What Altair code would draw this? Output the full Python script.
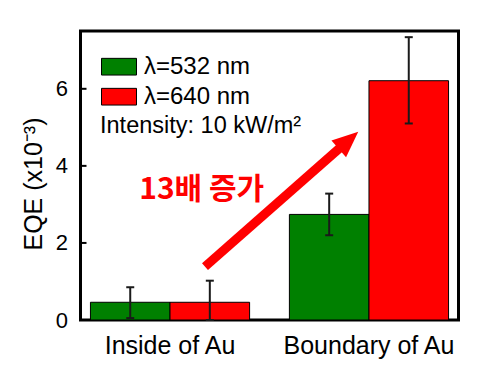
import altair as alt
import pandas as pd

# ---- data ----
locations = ["Inside of Au", "Boundary of Au"]
wavelengths = ["λ=532 nm", "λ=640 nm"]
colors = ["#008000", "#ff0000"]
eqe_532 = [0.46, 2.74]
eqe_640 = [0.46, 6.21]
lo_532 = [0.05, 2.20]
hi_532 = [0.85, 3.28]
lo_640 = [0.00, 5.10]
hi_640 = [1.02, 7.34]
y_ticks = [0, 2, 4, 6]
y_title = "EQE (x10⁻³)"
intensity_text = "Intensity: 10 kW/m²"
arrow_text = "13배 증가"

rows = []
for i, loc in enumerate(locations):
    rows.append({"location": loc, "wavelength": wavelengths[0], "eqe": eqe_532[i], "lo": lo_532[i], "hi": hi_532[i]})
    rows.append({"location": loc, "wavelength": wavelengths[1], "eqe": eqe_640[i], "lo": lo_640[i], "hi": hi_640[i]})
df = pd.DataFrame(rows)

yscale = alt.Scale(domain=[0, 7.5], nice=False, zero=True)

base = alt.Chart(df).encode(
    x=alt.X("location:N", sort=locations,
            scale=alt.Scale(paddingInner=0.2, paddingOuter=0.05),
            axis=alt.Axis(title=None, labelAngle=0, labelFontSize=25, labelPadding=13,
                          ticks=False, tickSize=0, domain=False, labelColor="black")),
    xOffset=alt.XOffset("wavelength:N", sort=wavelengths,
                        scale=alt.Scale(paddingInner=0, paddingOuter=0)),
)

bars = base.mark_bar(stroke="black", strokeWidth=1).encode(
    y=alt.Y("eqe:Q", scale=yscale,
            axis=alt.Axis(values=y_ticks, ticks=False, tickSize=0, domain=False, grid=False,
                          labelFontSize=22, labelPadding=13, labelColor="black",
                          title=y_title, titleFontSize=25, titleFontWeight="normal",
                          titleColor="black", titleAngle=-90, titleX=-39, titleY=152.5,
                          titleAlign="center", titleBaseline="alphabetic")),
    color=alt.Color("wavelength:N",
                    scale=alt.Scale(domain=wavelengths, range=colors),
                    legend=alt.Legend(title=None, orient="none", legendX=20.5, legendY=20.7,
                                      padding=0, rowPadding=0, clipHeight=30,
                                      symbolType="M-1,-0.477H1V0.477H-1Z", symbolSize=1225,
                                      symbolStrokeColor="black", symbolStrokeWidth=1,
                                      symbolOpacity=1, labelOffset=7,
                                      labelFontSize=24, labelColor="black")),
)

err = base.mark_rule(color="#1a1a1a", strokeWidth=2).encode(
    y=alt.Y("lo:Q", scale=yscale), y2="hi:Q"
)

caps = base.transform_fold(["lo", "hi"], as_=["end", "val"]).mark_tick(
    color="#1a1a1a", size=8, thickness=2, orient="horizontal", opacity=1
).encode(y=alt.Y("val:Q", scale=yscale))

tick_df = pd.DataFrame({"t": y_ticks})
inner_ticks = alt.Chart(tick_df).mark_rule(color="black", strokeWidth=2).encode(
    y=alt.Y("t:Q", scale=yscale), x=alt.value(0), x2=alt.value(6)
)

intensity = alt.Chart(pd.DataFrame({"label": [intensity_text]})).mark_text(
    align="left", baseline="alphabetic", fontSize=23.5, color="black"
).encode(text="label:N", x=alt.value(19.5), y=alt.value(102.3))

shaft = alt.Chart(pd.DataFrame({"a": [1]})).mark_rule(
    color="#ff0000", strokeWidth=9, strokeCap="butt"
).encode(x=alt.value(124.5), y=alt.value(235.7), x2=alt.value(261), y2=alt.value(115.5))

head = alt.Chart(pd.DataFrame({"a": [1]})).mark_point(
    shape="M0,-1L-0.85,1L0.85,1Z", size=676, angle=48.6, filled=True,
    color="#ff0000", opacity=1, strokeWidth=0
).encode(x=alt.value(268), y=alt.value(109.3))

korean = alt.Chart(pd.DataFrame({"label": [arrow_text]})).mark_text(
    align="center", baseline="middle", fontSize=30, fontWeight="bold",
    font="Noto Sans CJK KR", color="#ff0000"
).encode(text="label:N", x=alt.value(121.2), y=alt.value(158.5))

chart = alt.layer(bars, err, caps, inner_ticks, intensity, shaft, head, korean).properties(
    width=378, height=289,
    autosize=alt.AutoSizeParams(type="none"),
    padding={"left": 72.5, "top": 23, "right": 5, "bottom": 45},
).configure(font="Liberation Sans").configure_view(
    stroke="black", strokeWidth=3
)

chart.save("out.html", embed_options={"renderer": "svg", "actions": False})
